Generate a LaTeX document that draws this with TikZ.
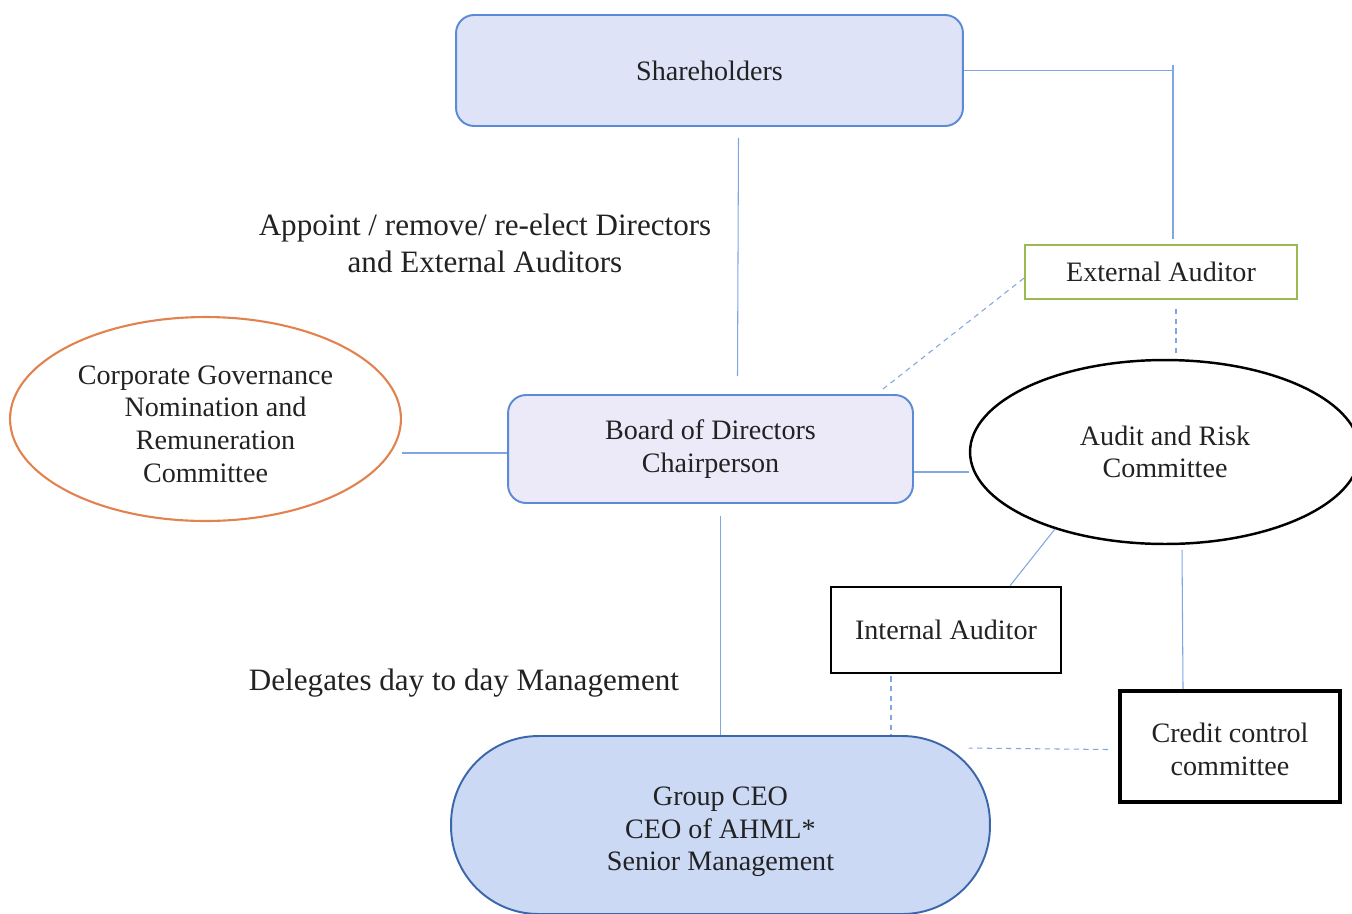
\documentclass[tikz,border=0pt]{standalone}
\usepackage{fontspec}
\setmainfont{Liberation Serif}
\usetikzlibrary{shapes.geometric,calc}

\definecolor{boxblue}{HTML}{5B8AD6}
\definecolor{ceoblue}{HTML}{3B66AC}
\definecolor{shfill}{HTML}{DEE3F7}
\definecolor{bodfill}{HTML}{ECE9F9}
\definecolor{ceofill}{HTML}{CBD9F4}
\definecolor{linkblue}{HTML}{7FA6E2}
\definecolor{cgorange}{HTML}{E2824F}
\definecolor{extgreen}{HTML}{9CBB4E}
\definecolor{txtgray}{HTML}{222222}

\begin{document}
\begin{tikzpicture}[x=0.02cm,y=-0.02cm,
    every node/.style={inner sep=0pt,align=center,text=txtgray,
      font=\fontsize{16}{18.6}\selectfont},
    bluebox/.style={draw=boxblue,line width=1.1pt,rounded corners=0.36cm},
    plainbox/.style={draw=black,line width=1.4pt},
    oval/.style={ellipse,line width=1.2pt},
    label/.style={font=\fontsize{17.7}{21}\selectfont},
    link/.style={draw=linkblue,line width=0.6pt},
    dlink/.style={link,dashed,dash pattern=on 3pt off 2.5pt}]
    \useasboundingbox (0,0) rectangle (1352,913);

    \node[bluebox,fill=shfill,minimum width=10.14cm,minimum height=2.22cm] (sh) at (709.5,70.5) {Shareholders};
    \node[bluebox,fill=bodfill,minimum width=8.1cm,minimum height=2.16cm] (bod) at (710.5,449) {Board of Directors\\Chairperson};
    \node[draw=ceoblue,fill=ceofill,line width=1.1pt,rounded corners=1.75cm,minimum width=10.78cm,minimum height=3.56cm] (ceo) at (720.5,825) {\rule{0pt}{0.65cm}Group CEO\\CEO of AHML*\\Senior Management};
    \node[oval,draw=cgorange,minimum width=7.82cm,minimum height=4.08cm] (cg) at (205.5,419) {\rule{0pt}{0.57cm}Corporate Governance\\\hspace*{0.4cm}Nomination and\\\hspace*{0.4cm}Remuneration\\Committee};
    \node[draw=extgreen,line width=1.1pt,minimum width=5.44cm,minimum height=1.08cm] (ext) at (1161,272) {External Auditor};
    \node[oval,draw=black,line width=1.4pt,minimum width=7.8cm,minimum height=3.68cm] (arc) at (1165,452) {Audit and Risk\\Committee};
    \node[plainbox,minimum width=4.6cm,minimum height=1.72cm] (int) at (946,630) {Internal Auditor};
    \node[plainbox,line width=2.3pt,minimum width=4.4cm,minimum height=2.22cm] (cc) at (1230,746.5) {\rule{0pt}{0.5cm}Credit control\\committee};

    \node[label] (appoint) at (485,243) {Appoint / remove/ re-elect Directors\\and External Auditors};
    \node[label] (delegate) at (464,683) {Delegates day to day Management};

    % shareholders to external auditor
    \coordinate (turn) at (1173,70.5);
    \draw[link] (sh.east) -- (turn);
    \draw[link] ([yshift=0.12cm]turn) -- ([yshift=0.1cm]turn |- ext.north);
    \draw[link] ([xshift=0.58cm,yshift=-0.22cm]sh.south) -- ([xshift=0.54cm,yshift=0.36cm]bod.north);

    % board links
    \draw[link] ([yshift=-0.08cm]bod.west) -- ([yshift=-0.08cm]bod.west -| cg.east);
    \draw[link] ([yshift=-0.46cm]bod.east) -- ([yshift=-0.46cm]bod.east -| arc.west);
    \draw[link] ([xshift=0.2cm,yshift=-0.24cm]bod.south) -- ([xshift=0.2cm]bod.south |- ceo.north);
    \draw[dlink] ([xshift=-0.62cm,yshift=0.1cm]bod.north east) -- ([yshift=-0.12cm]ext.west);

    % audit committee links
    \draw[dlink] ([xshift=0.3cm,yshift=-0.18cm]ext.south) -- ([xshift=0.3cm,yshift=0.06cm]ext.south |- arc.north);
    \draw[link] ([xshift=1.28cm]int.north) -- (arc.215);
    \draw[link] ([xshift=-0.94cm]cc.north) -- ([xshift=-0.96cm,yshift=-0.1cm]cc.north |- arc.south);
    \draw[dlink] ([xshift=-1.1cm,yshift=-0.04cm]int.south) -- ([xshift=-1.1cm]int.south |- ceo.north);
    \draw[dlink] ([xshift=-0.2cm,yshift=-0.06cm]cc.west) -- ([xshift=-0.44cm,yshift=-0.26cm]ceo.north east);
\end{tikzpicture}
\end{document}
